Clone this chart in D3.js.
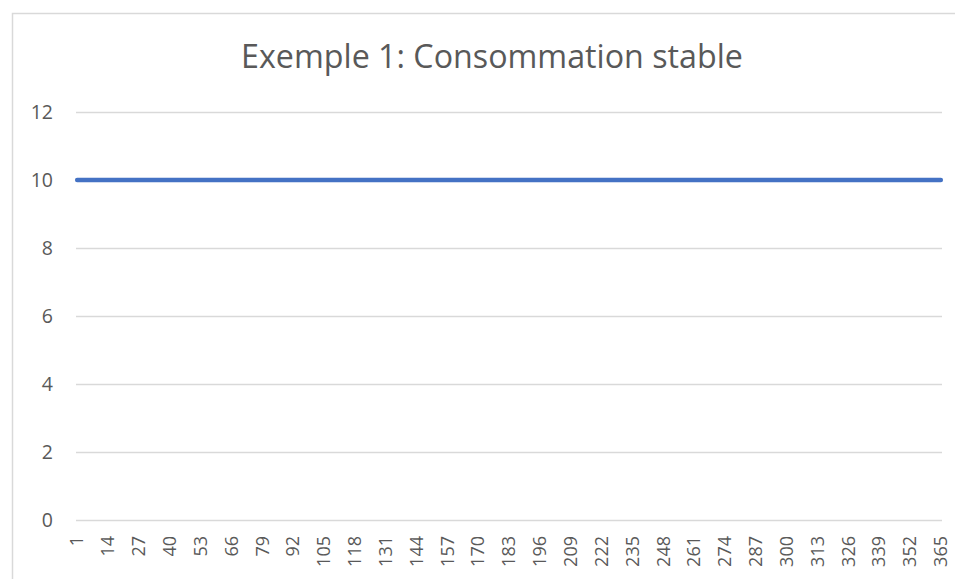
<!DOCTYPE html>
<html><head><meta charset="utf-8">
<script src="https://cdn.jsdelivr.net/npm/d3@7"></script>
<style>body{margin:0;background:#fff}svg{display:block}text{font-family:"Open Sans",sans-serif;fill:#595959}</style>
</head><body><svg id="c" width="955" height="579"></svg>
<script>
const title = "Exemple 1: Consommation stable";
const days = Array.from({length:365}, (_, i) => i + 1);
const consumption = days.map(() => 10);
const yTicks = [0, 2, 4, 6, 8, 10, 12];
const xLabelDays = days.filter(d => (d - 1) % 13 === 0);

const svg = d3.select("#c");
const W = 955, H = 579;
const m = {left: 76, right: 13, top: 112, bottom: 59};
svg.append("rect").attr("x", 12.5).attr("y", 13.5).attr("width", 960).attr("height", 600)
  .attr("fill", "#fff").attr("stroke", "#d9d9d9").attr("stroke-width", 1.5);

const x = d3.scaleBand().domain(days).range([m.left, W - m.right]).padding(0);
const y = d3.scaleLinear().domain([0, 12]).range([H - m.bottom, m.top]);

const t = svg.append("text").attr("x", 492).attr("y", 68).attr("text-anchor", "middle")
  .style("font-size", "28px").text(title);
const tw = t.node().getComputedTextLength();
if (tw > 0) t.style("font-size", (28 * 502 / tw).toFixed(2) + "px");

const yAxis = d3.axisLeft(y).tickValues(yTicks).tickSize(-(W - m.left - m.right)).tickPadding(23);
const gy = svg.append("g").attr("transform", `translate(${m.left},0)`).call(yAxis);
gy.select(".domain").remove();
gy.selectAll(".tick line").attr("stroke", "#d9d9d9").attr("stroke-width", 1.5);
gy.selectAll(".tick text").style("font-size", "19.5px").attr("fill", "#595959");

const xAxis = d3.axisBottom(x).tickValues(xLabelDays).tickSize(0).tickPadding(0);
const gx = svg.append("g").attr("transform", `translate(0,${H - m.bottom})`).call(xAxis);
gx.select(".domain").remove();
gx.selectAll(".tick text").style("font-size", "18px").attr("fill", "#595959")
  .attr("transform", "rotate(-90)").attr("text-anchor", "end")
  .attr("x", -16).attr("y", 0).attr("dy", "0.35em");

const line = d3.line().x(d => x(d.day) + x.bandwidth() / 2).y(d => y(d.v));
svg.append("path").datum(days.map((d, i) => ({day: d, v: consumption[i]})))
  .attr("d", line).attr("fill", "none").attr("stroke", "#4472c4")
  .attr("stroke-width", 4.5).attr("stroke-linecap", "round");
</script></body></html>
